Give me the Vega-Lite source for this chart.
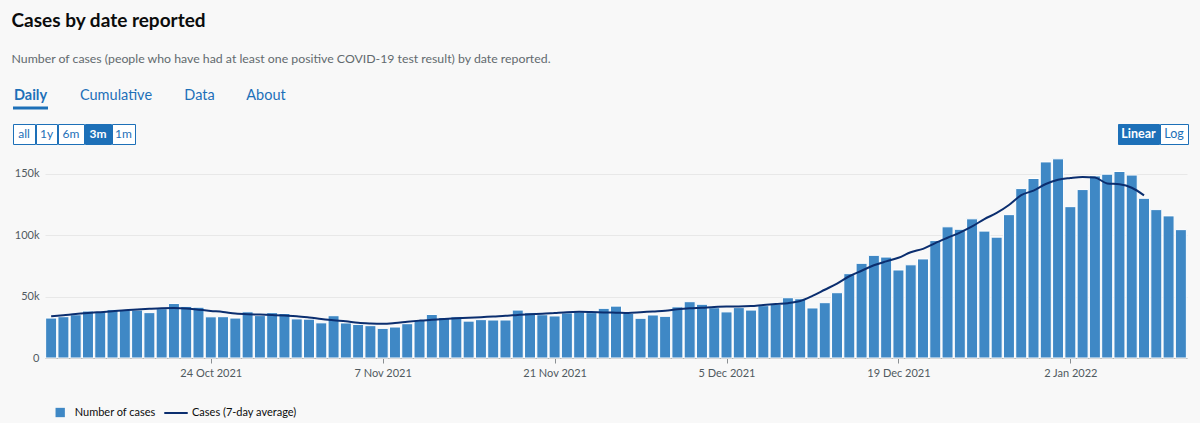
{
  "$schema": "https://vega.github.io/schema/vega-lite/v6.json",
  "background": "#f8f8f8",
  "padding": {"left": 11, "top": 12, "right": 12, "bottom": 5},
  "title": {
    "text": "Cases by date reported",
    "subtitle": "Number of cases (people who have had at least one positive COVID-19 test result) by date reported.",
    "anchor": "start",
    "fontSize": 19,
    "fontWeight": "bold",
    "color": "#0b0c0c",
    "subtitleFontSize": 12.3,
    "subtitleColor": "#626a6e",
    "subtitlePadding": 22,
    "offset": 18.5
  },
  "spacing": 13,
  "vconcat": [
    {
      "spacing": 28,
      "hconcat": [
        {
          "width": 35,
          "height": 24,
          "data": {"values": [{"tab": "Daily"}]},
          "layer": [
            {
              "mark": {"type": "text", "fontSize": 14.5, "fontWeight": "bold", "color": "#1d70b8", "baseline": "middle"},
              "encoding": {"text": {"field": "tab"}}
            },
            {
              "mark": {"type": "rule", "color": "#1d70b8", "strokeWidth": 3},
              "encoding": {"y": {"value": "height"}}
            }
          ]
        },
        {
          "width": 76,
          "height": 24,
          "data": {"values": [{"tab": "Cumulative"}]},
          "mark": {"type": "text", "fontSize": 14.5, "color": "#1d70b8", "baseline": "middle"},
          "encoding": {"text": {"field": "tab"}}
        },
        {
          "width": 35,
          "height": 24,
          "data": {"values": [{"tab": "Data"}]},
          "mark": {"type": "text", "fontSize": 14.5, "color": "#1d70b8", "baseline": "middle"},
          "encoding": {"text": {"field": "tab"}}
        },
        {
          "width": 42,
          "height": 24,
          "data": {"values": [{"tab": "About"}]},
          "mark": {"type": "text", "fontSize": 14.5, "color": "#1d70b8", "baseline": "middle"},
          "encoding": {"text": {"field": "tab"}}
        }
      ]
    },
    {
      "spacing": 4,
      "vconcat": [
        {
          "spacing": 981,
          "hconcat": [
            {
              "spacing": -3,
              "hconcat": [
                {
                  "width": 22, "height": 20,
                  "view": {"fill": "#ffffff", "stroke": "#1d70b8"},
                  "data": {"values": [{"range": "all"}]},
                  "mark": {"type": "text", "fontSize": 12, "color": "#1d70b8", "baseline": "middle"},
                  "encoding": {"text": {"field": "range"}}
                },
                {
                  "width": 21, "height": 20,
                  "view": {"fill": "#ffffff", "stroke": "#1d70b8"},
                  "data": {"values": [{"range": "1y"}]},
                  "mark": {"type": "text", "fontSize": 12, "color": "#1d70b8", "baseline": "middle"},
                  "encoding": {"text": {"field": "range"}}
                },
                {
                  "width": 26, "height": 20,
                  "view": {"fill": "#ffffff", "stroke": "#1d70b8"},
                  "data": {"values": [{"range": "6m"}]},
                  "mark": {"type": "text", "fontSize": 12, "color": "#1d70b8", "baseline": "middle"},
                  "encoding": {"text": {"field": "range"}}
                },
                {
                  "width": 26, "height": 20,
                  "view": {"fill": "#1d70b8", "stroke": "#1d70b8"},
                  "data": {"values": [{"range": "3m"}]},
                  "mark": {"type": "text", "fontSize": 12, "fontWeight": "bold", "color": "#ffffff", "baseline": "middle"},
                  "encoding": {"text": {"field": "range"}}
                },
                {
                  "width": 23, "height": 20,
                  "view": {"fill": "#ffffff", "stroke": "#1d70b8"},
                  "data": {"values": [{"range": "1m"}]},
                  "mark": {"type": "text", "fontSize": 12, "color": "#1d70b8", "baseline": "middle"},
                  "encoding": {"text": {"field": "range"}}
                }
              ]
            },
            {
              "spacing": -3,
              "hconcat": [
                {
                  "width": 41, "height": 20,
                  "view": {"fill": "#1d70b8", "stroke": "#1d70b8"},
                  "data": {"values": [{"scale": "Linear"}]},
                  "mark": {"type": "text", "fontSize": 12.5, "fontWeight": "bold", "color": "#ffffff", "baseline": "middle"},
                  "encoding": {"text": {"field": "scale"}}
                },
                {
                  "width": 28, "height": 20,
                  "view": {"fill": "#ffffff", "stroke": "#1d70b8"},
                  "data": {"values": [{"scale": "Log"}]},
                  "mark": {"type": "text", "fontSize": 12.5, "color": "#1d70b8", "baseline": "middle"},
                  "encoding": {"text": {"field": "scale"}}
                }
              ]
            }
          ]
        },
        {
          "width": 1174,
          "height": 209,
          "data": {
            "values": [
              {"date": "2021-10-11", "cases": 32500, "avg": 33900},
              {"date": "2021-10-12", "cases": 33600, "avg": 34800},
              {"date": "2021-10-13", "cases": 35200, "avg": 35800},
              {"date": "2021-10-14", "cases": 38200, "avg": 36600},
              {"date": "2021-10-15", "cases": 37400, "avg": 37300},
              {"date": "2021-10-16", "cases": 39300, "avg": 38000},
              {"date": "2021-10-17", "cases": 38800, "avg": 38800},
              {"date": "2021-10-18", "cases": 39000, "avg": 39400},
              {"date": "2021-10-19", "cases": 36900, "avg": 40000},
              {"date": "2021-10-20", "cases": 40100, "avg": 40500},
              {"date": "2021-10-21", "cases": 44300, "avg": 40700},
              {"date": "2021-10-22", "cases": 42000, "avg": 40300},
              {"date": "2021-10-23", "cases": 41300, "avg": 39300},
              {"date": "2021-10-24", "cases": 33500, "avg": 38300},
              {"date": "2021-10-25", "cases": 33600, "avg": 37400},
              {"date": "2021-10-26", "cases": 32500, "avg": 36200},
              {"date": "2021-10-27", "cases": 37600, "avg": 35600},
              {"date": "2021-10-28", "cases": 34500, "avg": 35300},
              {"date": "2021-10-29", "cases": 36900, "avg": 34900},
              {"date": "2021-10-30", "cases": 36200, "avg": 34500},
              {"date": "2021-10-31", "cases": 31800, "avg": 34000},
              {"date": "2021-11-01", "cases": 31600, "avg": 33000},
              {"date": "2021-11-02", "cases": 28600, "avg": 31800},
              {"date": "2021-11-03", "cases": 34400, "avg": 30700},
              {"date": "2021-11-04", "cases": 28500, "avg": 29800},
              {"date": "2021-11-05", "cases": 27300, "avg": 28600},
              {"date": "2021-11-06", "cases": 26300, "avg": 28100},
              {"date": "2021-11-07", "cases": 24100, "avg": 27900},
              {"date": "2021-11-08", "cases": 25200, "avg": 28500},
              {"date": "2021-11-09", "cases": 27900, "avg": 29500},
              {"date": "2021-11-10", "cases": 30500, "avg": 30400},
              {"date": "2021-11-11", "cases": 35400, "avg": 31200},
              {"date": "2021-11-12", "cases": 33000, "avg": 31800},
              {"date": "2021-11-13", "cases": 33500, "avg": 32300},
              {"date": "2021-11-14", "cases": 30000, "avg": 32700},
              {"date": "2021-11-15", "cases": 31200, "avg": 33200},
              {"date": "2021-11-16", "cases": 30900, "avg": 33800},
              {"date": "2021-11-17", "cases": 30900, "avg": 34300},
              {"date": "2021-11-18", "cases": 39000, "avg": 35000},
              {"date": "2021-11-19", "cases": 36800, "avg": 35600},
              {"date": "2021-11-20", "cases": 35200, "avg": 35900},
              {"date": "2021-11-21", "cases": 34200, "avg": 36600},
              {"date": "2021-11-22", "cases": 36700, "avg": 37300},
              {"date": "2021-11-23", "cases": 37500, "avg": 37600},
              {"date": "2021-11-24", "cases": 36900, "avg": 37400},
              {"date": "2021-11-25", "cases": 40400, "avg": 37100},
              {"date": "2021-11-26", "cases": 42200, "avg": 36900},
              {"date": "2021-11-27", "cases": 36200, "avg": 36600},
              {"date": "2021-11-28", "cases": 32300, "avg": 37200},
              {"date": "2021-11-29", "cases": 35000, "avg": 37900},
              {"date": "2021-11-30", "cases": 33900, "avg": 38500},
              {"date": "2021-12-01", "cases": 41600, "avg": 39600},
              {"date": "2021-12-02", "cases": 45800, "avg": 40400},
              {"date": "2021-12-03", "cases": 43700, "avg": 40900},
              {"date": "2021-12-04", "cases": 40900, "avg": 41500},
              {"date": "2021-12-05", "cases": 37500, "avg": 41800},
              {"date": "2021-12-06", "cases": 41000, "avg": 41800},
              {"date": "2021-12-07", "cases": 39000, "avg": 42200},
              {"date": "2021-12-08", "cases": 42600, "avg": 43200},
              {"date": "2021-12-09", "cases": 43600, "avg": 44000},
              {"date": "2021-12-10", "cases": 49000, "avg": 44600},
              {"date": "2021-12-11", "cases": 48200, "avg": 46300},
              {"date": "2021-12-12", "cases": 40700, "avg": 50500},
              {"date": "2021-12-13", "cases": 45000, "avg": 55500},
              {"date": "2021-12-14", "cases": 53100, "avg": 60500},
              {"date": "2021-12-15", "cases": 68600, "avg": 66500},
              {"date": "2021-12-16", "cases": 77000, "avg": 71000},
              {"date": "2021-12-17", "cases": 83500, "avg": 75400},
              {"date": "2021-12-18", "cases": 82100, "avg": 78600},
              {"date": "2021-12-19", "cases": 71600, "avg": 81500},
              {"date": "2021-12-20", "cases": 75800, "avg": 86000},
              {"date": "2021-12-21", "cases": 80600, "avg": 88800},
              {"date": "2021-12-22", "cases": 95500, "avg": 93500},
              {"date": "2021-12-23", "cases": 106700, "avg": 97800},
              {"date": "2021-12-24", "cases": 104700, "avg": 102000},
              {"date": "2021-12-25", "cases": 113200, "avg": 107000},
              {"date": "2021-12-26", "cases": 103200, "avg": 113000},
              {"date": "2021-12-27", "cases": 98300, "avg": 118000},
              {"date": "2021-12-28", "cases": 116600, "avg": 124500},
              {"date": "2021-12-29", "cases": 137800, "avg": 132500},
              {"date": "2021-12-30", "cases": 146000, "avg": 136200},
              {"date": "2021-12-31", "cases": 159500, "avg": 141500},
              {"date": "2022-01-01", "cases": 162000, "avg": 145000},
              {"date": "2022-01-02", "cases": 123100, "avg": 146400},
              {"date": "2022-01-03", "cases": 137000, "avg": 147300},
              {"date": "2022-01-04", "cases": 148100, "avg": 146800},
              {"date": "2022-01-05", "cases": 149500, "avg": 142000},
              {"date": "2022-01-06", "cases": 151700, "avg": 141300},
              {"date": "2022-01-07", "cases": 148800, "avg": 138500},
              {"date": "2022-01-08", "cases": 129900, "avg": 132300},
              {"date": "2022-01-09", "cases": 120700, "avg": null},
              {"date": "2022-01-10", "cases": 115600, "avg": null},
              {"date": "2022-01-11", "cases": 104400, "avg": null}
            ]
          },
          "encoding": {
            "x": {
              "field": "date",
              "type": "temporal",
              "title": null,
              "scale": {
                "type": "utc",
                "range": [32, 1174],
                "padding": 0,
                "domain": [
                  {"year": 2021, "month": 10, "date": 10, "hours": 12, "utc": true},
                  {"year": 2022, "month": 1, "date": 11, "hours": 12, "utc": true}
                ]
              },
              "axis": {
                "values": [
                  {"year": 2021, "month": 10, "date": 24, "utc": true},
                  {"year": 2021, "month": 11, "date": 7, "utc": true},
                  {"year": 2021, "month": 11, "date": 21, "utc": true},
                  {"year": 2021, "month": 12, "date": 5, "utc": true},
                  {"year": 2021, "month": 12, "date": 19, "utc": true},
                  {"year": 2022, "month": 1, "date": 2, "utc": true}
                ],
                "labelExpr": "utcFormat(datum.value, '%-d %b %Y')",
                "grid": false,
                "domainColor": "#b1b4b6",
                "tickColor": "#8a8f92",
                "tickSize": 5,
                "labelPadding": 4,
                "labelFontSize": 11,
                "labelColor": "#505a5f"
              }
            }
          },
          "layer": [
            {
              "mark": {"type": "bar", "width": 11, "stroke": "#ffffff", "strokeWidth": 1},
              "encoding": {
                "y": {
                  "field": "cases",
                  "type": "quantitative",
                  "title": null,
                  "scale": {"domain": [0, 170000], "nice": false},
                  "axis": {
                    "values": [0, 50000, 100000, 150000],
                    "format": "~s",
                    "labelExpr": "datum.value === 0 ? '0' : datum.label",
                    "offset": -32,
                    "domain": false,
                    "ticks": false,
                    "labelPadding": 6,
                    "labelFontSize": 11,
                    "labelColor": "#505a5f",
                    "gridColor": "#e8e8e8"
                  }
                },
                "fill": {
                  "datum": "Number of cases",
                  "type": "nominal",
                  "scale": {"range": ["#3f88c5"]},
                  "legend": {
                    "title": null,
                    "orient": "none",
                    "legendX": 41.7,
                    "legendY": 323,
                    "symbolType": "square",
                    "symbolSize": 87,
                    "symbolStrokeWidth": 0,
                    "labelOffset": 9,
                    "labelFontSize": 11,
                    "labelColor": "#0b0c0c"
                  }
                }
              }
            },
            {
              "mark": {"type": "line", "strokeWidth": 2, "interpolate": "monotone"},
              "encoding": {
                "y": {"field": "avg", "type": "quantitative"},
                "stroke": {
                  "datum": "Cases (7-day average)",
                  "type": "nominal",
                  "scale": {"range": ["#0b2e6f"]},
                  "legend": {
                    "title": null,
                    "orient": "none",
                    "legendX": 150,
                    "legendY": 316,
                    "symbolType": "stroke",
                    "symbolSize": 550,
                    "symbolStrokeWidth": 2,
                    "labelOffset": 3,
                    "labelFontSize": 11,
                    "labelColor": "#0b0c0c"
                  }
                }
              }
            }
          ]
        }
      ]
    }
  ],
  "config": {
    "font": "Lato",
    "view": {"stroke": null}
  }
}
